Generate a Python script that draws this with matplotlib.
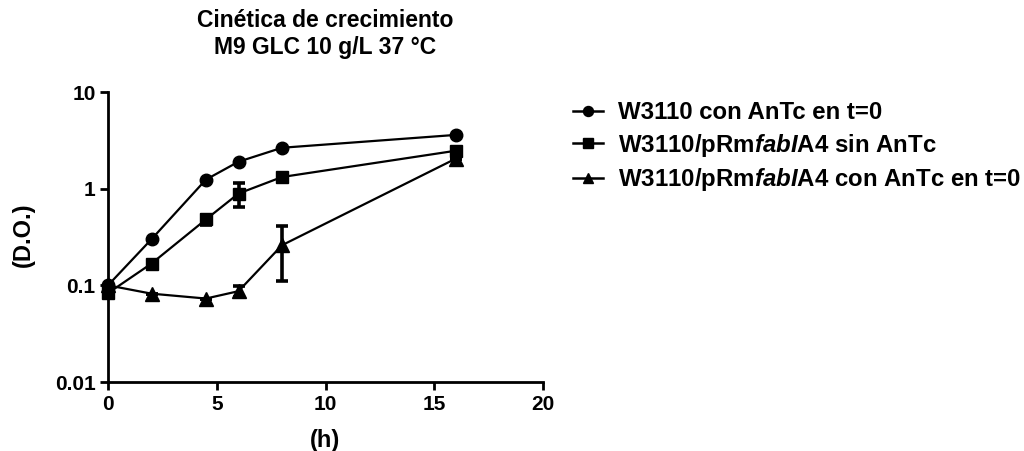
import numpy as np
import matplotlib
matplotlib.use("Agg")
import matplotlib.pyplot as plt
from matplotlib.lines import Line2D

plt.rcParams["font.family"] = ["Liberation Sans", "DejaVu Sans"]
plt.rcParams["font.weight"] = "bold"
plt.rcParams["mathtext.fontset"] = "custom"
plt.rcParams["mathtext.it"] = "Liberation Sans:italic:bold"
plt.rcParams["mathtext.rm"] = "Liberation Sans:bold"

# Data
t_wt = [0, 2, 4.5, 6, 8, 16]
od_wt = [0.1, 0.30, 1.24, 1.9, 2.65, 3.6]
err_wt = [0, 0, 0, 0, 0, 0]

t_sin = [0, 2, 4.5, 6, 8, 16]
od_sin = [0.083, 0.168, 0.48, 0.89, 1.32, 2.47]
err_sin = [0, 0, 0.06, 0.25, 0.05, 0]

t_con = [0, 2, 4.5, 6, 8, 16]
od_con = [0.1, 0.082, 0.073, 0.087, 0.26, 2.05]
err_con = [0, 0, 0, 0.012, 0.15, 0]

labels = [
    "W3110 con AnTc en t=0",
    r"W3110/pRm$\mathit{fabI}$A4 sin AnTc",
    r"W3110/pRm$\mathit{fabI}$A4 con AnTc en t=0",
]

fig = plt.figure(figsize=(10.24, 4.51), dpi=100)
ax = fig.add_axes([108 / 1024, 1 - 382 / 451, 435 / 1024, 290 / 451])

series = [
    (t_wt, od_wt, err_wt, "o", 9),
    (t_sin, od_sin, err_sin, "s", 8.5),
    (t_con, od_con, err_con, "^", 9.5),
]
handles = []
for (t, y, e, m, ms), lab in zip(series, labels):
    ax.errorbar(t, y, yerr=e, color="black", marker=m, markersize=ms,
                linewidth=1.6, elinewidth=2.6, capsize=4.5, capthick=2.6,
                clip_on=False, zorder=3)
    handles.append(Line2D([], [], color="black", marker=m, markersize=ms * 0.8,
                          linewidth=1.8, label=lab))

ax.set_yscale("log")
ax.set_xlim(0, 20)
ax.set_ylim(0.01, 10)
ax.set_xticks([0, 5, 10, 15, 20])
ax.set_yticks([0.01, 0.1, 1, 10])
ax.set_yticklabels(["0.01", "0.1", "1", "10"])
ax.yaxis.set_minor_locator(matplotlib.ticker.NullLocator())
ax.spines["top"].set_visible(False)
ax.spines["right"].set_visible(False)
for s in ["left", "bottom"]:
    ax.spines[s].set_linewidth(2)
ax.tick_params(direction="out", width=2, length=6, labelsize=15, pad=3)

fig.text(325 / 1024, 1 - 440 / 451, "(h)", fontsize=17, fontweight="bold",
         ha="center", va="center")
fig.text(23 / 1024, 1 - 235 / 451, "(D.O.)", fontsize=17, fontweight="bold",
         ha="center", va="center", rotation=90)
fig.text(325 / 1024, 1 - 34 / 451, "Cinética de crecimiento\nM9 GLC 10 g/L 37 °C",
         fontsize=16.5, fontweight="bold", ha="center", va="center",
         linespacing=1.2)

fig.legend(handles=handles, loc="upper left",
           bbox_to_anchor=(573 / 1024, 1 - 101 / 451),
           frameon=False, fontsize=17.3, handlelength=1.25, handletextpad=0.62,
           labelspacing=0.32, borderpad=0, borderaxespad=0)

fig.savefig("out.png", dpi=100)
